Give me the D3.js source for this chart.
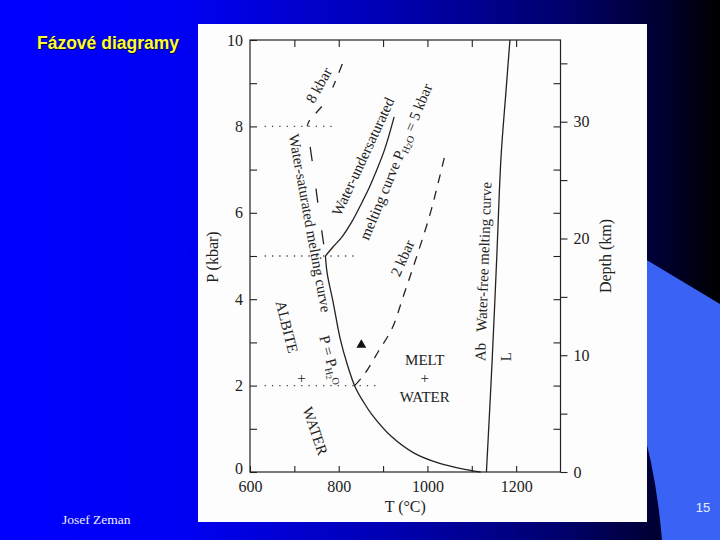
<!DOCTYPE html>
<html>
<head>
<meta charset="utf-8">
<script src="https://cdn.jsdelivr.net/npm/d3@7"></script>
<style>
  body { margin: 0; background: #000; }
  svg { display: block; }
</style>
</head>
<body>
<div id="slide"></div>
<script>
// axis ticks
const tempTicks = [600, 800, 1000, 1200];
const pressureTicks = [0, 2, 4, 6, 8, 10];
const depthTicks = [0, 10, 20, 30];

// curves, [T (°C), P (kbar)]
const waterSaturated = [[770, 5], [774, 4.6], [788, 3.9], [803, 3.1], [819, 2.5], [837, 1.97],
  [856, 1.62], [874, 1.34], [919, 0.82], [971, 0.43], [1024, 0.21], [1084, 0.06], [1120, 0]];
const waterSaturatedHigh = [[770, 5], [756, 6], [743, 7], [731, 7.85], [729, 8.0]];
const underSaturated8 = [[729, 8.0], [733, 8.12], [748, 8.3], [772, 8.6], [794, 9.08], [812, 9.55]];
const underSaturated5 = [[770, 5], [788, 5.22], [808, 5.45], [830, 5.8], [848, 6.15],
  [866, 6.52], [882, 6.9], [903, 7.45], [925, 8.22]];
const underSaturated2 = [[836, 2], [859, 2.28], [890, 2.8], [921, 3.34], [946, 4.08],
  [973, 4.9], [1004, 5.9], [1022, 6.6], [1040, 7.36]];
const waterFree = [[1133, 0], [1146, 2.6], [1156, 4.9], [1166, 7.3], [1177, 8.8], [1186, 10]];

// dotted guide lines: [P, T from, T to]
const guides = [[8, 633, 791], [5, 633, 836], [2, 633, 892]];

const marker = [851, 2.94];

const W = 720, H = 540;
const svg = d3.select("#slide").append("svg")
  .attr("width", W).attr("height", H);

const defs = svg.append("defs");
const grad = defs.append("linearGradient").attr("id", "bg")
  .attr("x1", 0).attr("x2", 1).attr("y1", 0).attr("y2", 0);
[[0, "#0000ff"], [0.25, "#0000f4"], [0.55, "#0000b0"], [0.77, "#000070"], [0.92, "#000030"], [1, "#000000"]]
  .forEach(s => grad.append("stop").attr("offset", s[0]).attr("stop-color", s[1]));

svg.append("rect").attr("width", W).attr("height", H).attr("fill", "url(#bg)");

// light blue corner shape
svg.append("path")
  .attr("d", "M600,232 L720,304 L720,540 L662,540 Q656,470 640,420 Z")
  .attr("fill", "#3a62f4");

// title
const title = "Fázové diagramy";
svg.append("text").attr("x", 38).attr("y", 50).text(title)
  .attr("font-family", "Liberation Sans, Arial, sans-serif").attr("font-weight", "bold")
  .attr("font-size", 17.5).attr("fill", "#000040");
svg.append("text").attr("x", 37).attr("y", 49).text(title)
  .attr("font-family", "Liberation Sans, Arial, sans-serif").attr("font-weight", "bold")
  .attr("font-size", 17.5).attr("fill", "#ffff30");

svg.append("text").attr("x", 62).attr("y", 524).text("Josef Zeman")
  .attr("font-family", "Liberation Serif, serif").attr("font-size", 13.5).attr("fill", "#f0f0ff");
svg.append("text").attr("x", 703).attr("y", 512).attr("text-anchor", "middle").text("15")
  .attr("font-family", "Liberation Sans, Arial, sans-serif").attr("font-size", 13).attr("fill", "#e8eeff");

// white picture panel
svg.append("rect").attr("x", 198).attr("y", 24).attr("width", 449).attr("height", 498).attr("fill", "#fdfdfd");

const x = d3.scaleLinear().domain([600, 1300]).range([250, 560.5]);
const y = d3.scaleLinear().domain([0, 10]).range([472, 40]);
const depth = d3.scaleLinear().domain([0, 37]).range([472, 40]);

const ink = "#222";
const serif = "Liberation Serif, Times New Roman, serif";

const plot = svg.append("g");

function styleAxis(g) {
  g.select(".domain").remove();
  g.attr("font-family", serif).attr("font-size", 16);
  g.selectAll("line").attr("stroke", ink).attr("stroke-width", 1.1);
  g.selectAll("text").attr("fill", ink);
}

plot.append("g").attr("transform", `translate(0,${y(0)})`)
  .call(d3.axisBottom(x).tickValues(d3.range(600, 1201, 100)).tickSize(-6).tickPadding(9)
    .tickFormat(d => tempTicks.includes(d) ? d : ""))
  .call(styleAxis);
plot.append("g").attr("transform", `translate(0,${y(10)})`)
  .call(d3.axisTop(x).tickValues(d3.range(700, 1201, 100)).tickSize(-7).tickFormat(""))
  .call(styleAxis);
plot.append("g").attr("transform", `translate(${x(600)},0)`)
  .call(d3.axisLeft(y).tickValues(d3.range(0, 11)).tickSize(-7).tickPadding(7)
    .tickFormat(d => pressureTicks.includes(d) ? d : ""))
  .call(styleAxis)
  .call(g => g.selectAll("text").filter(d => d === 0).attr("dy", "0.12em"));
plot.append("g").attr("transform", `translate(${x(1300)},0)`)
  .call(d3.axisRight(y).tickValues(d3.range(1, 10)).tickSize(-7).tickFormat(""))
  .call(styleAxis);
plot.append("g").attr("transform", `translate(${x(1300)},0)`)
  .call(d3.axisRight(depth).tickValues(d3.range(0, 36, 5)).tickSize(7).tickPadding(6)
    .tickFormat(d => depthTicks.includes(d) ? d : ""))
  .call(styleAxis);

plot.append("rect")
  .attr("x", x(600)).attr("y", y(10))
  .attr("width", x(1300) - x(600)).attr("height", y(0) - y(10))
  .attr("fill", "none").attr("stroke", ink).attr("stroke-width", 1.2);

// axis titles
plot.append("text").attr("transform", `translate(218,${(y(0) + y(10)) / 2 + 1}) rotate(-90)`)
  .attr("text-anchor", "middle").attr("font-family", serif).attr("font-size", 16).attr("fill", ink)
  .text("P (kbar)");
plot.append("text").attr("transform", `translate(611,${(y(0) + y(10)) / 2}) rotate(-90)`)
  .attr("text-anchor", "middle").attr("font-family", serif).attr("font-size", 16).attr("fill", ink)
  .text("Depth (km)");
plot.append("text").attr("x", x(950)).attr("y", 512)
  .attr("text-anchor", "middle").attr("font-family", serif).attr("font-size", 16).attr("fill", ink)
  .text("T (°C)");

// curves
const line = d3.line().x(d => x(d[0])).y(d => y(d[1])).curve(d3.curveCatmullRom.alpha(0.5));

function curve(data, dash) {
  plot.append("path").attr("d", line(data))
    .attr("fill", "none").attr("stroke", ink).attr("stroke-width", 1.3)
    .attr("stroke-dasharray", dash || null);
}
curve(waterSaturated);
curve(underSaturated5);
curve(waterFree);
curve(underSaturated2, "9 8");
curve(waterSaturatedHigh, "0 12 14 16");
curve(underSaturated8, "7 9 9 22");

guides.forEach(g => {
  plot.append("line")
    .attr("x1", x(g[1])).attr("x2", x(g[2])).attr("y1", y(g[0])).attr("y2", y(g[0]))
    .attr("stroke", "#444").attr("stroke-width", 1.3).attr("stroke-dasharray", "1.3 6");
});

plot.append("path")
  .attr("transform", `translate(${x(marker[0])},${y(marker[1])})`)
  .attr("d", d3.symbol(d3.symbolTriangle, 42)())
  .attr("fill", "#111");

// labels, positioned in data units
function label(t, p, angle, parts, size) {
  const txt = plot.append("text")
    .attr("transform", `translate(${x(t)},${y(p)}) rotate(${angle})`)
    .attr("text-anchor", "middle").attr("dominant-baseline", "central")
    .attr("font-family", serif).attr("font-size", size || 15).attr("fill", ink);
  parts.forEach(pt => {
    const s = txt.append("tspan").text(pt[0]);
    if (pt[1]) s.attr("font-size", pt[1]);
    if (pt[2]) s.attr("dy", pt[2]);
  });
}

label(755, 8.95, -61, [["8 kbar"]]);
label(855, 7.3, -65, [["Water-undersaturated"]]);
label(929, 7.18, -67.5, [["melting curve P"], ["H", 10, 4], ["2", 8, 2], ["O", 10, -2], [" = 5 kbar", 15, -4]]);
label(735, 5.76, 79.6, [["Water-saturated melting curve"]]);
label(782, 2.59, 75, [["P = P"], ["H", 10, 4], ["2", 8, 2], ["O", 10, -6]]);
label(683, 3.36, 76, [["ALBITE"]]);
label(716, 2.17, 0, [["+"]]);
label(747, 0.95, 71, [["WATER"]]);
label(944, 4.95, -66, [["2 kbar"]]);
label(994, 2.59, 0, [["MELT"]]);
label(994, 2.18, 0, [["+"]]);
label(994, 1.74, 0, [["WATER"]]);
label(1126, 4.64, -88, [["Ab\u00a0\u00a0 Water-free melting curve"]]);
label(1178, 2.67, -90, [["L"]]);
</script>
</body>
</html>
